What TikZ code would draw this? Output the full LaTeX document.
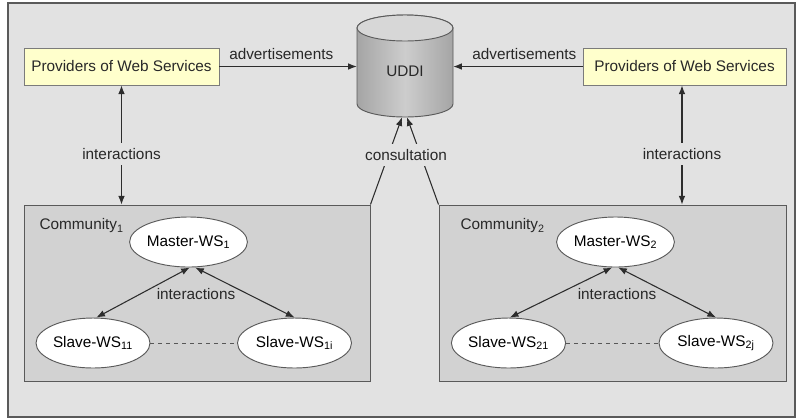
\documentclass[tikz,border=0pt]{standalone}
\usepackage{fontspec}
\setmainfont{Liberation Sans}
\usetikzlibrary{arrows.meta,shapes.geometric}
\definecolor{bgc}{RGB}{226,226,226}
\definecolor{framec}{RGB}{90,90,90}
\definecolor{commc}{RGB}{210,210,210}
\definecolor{provc}{RGB}{255,255,204}
\definecolor{linec}{RGB}{45,45,45}
\definecolor{txtc}{RGB}{40,40,40}
\definecolor{cyla}{RGB}{165,165,165}
\definecolor{cylb}{RGB}{205,205,205}
\definecolor{cylt}{RGB}{215,215,215}
\tikzset{
  arr/.style={draw=linec, line width=0.8pt, -{Latex[length=6.5pt,width=5pt]}},
  darr/.style={draw=linec, line width=0.8pt, {Latex[length=6.5pt,width=5pt]}-{Latex[length=6.5pt,width=5pt]}},
  provbox/.style={draw=framec!80, fill=provc, line width=0.7pt, inner sep=0pt, minimum height=27.75pt},
  commbox/.style={draw=framec, fill=commc, line width=0.7pt, inner sep=0pt, minimum height=132pt},
  wsnode/.style={ellipse, draw=framec, fill=white, line width=0.7pt, inner sep=0pt, minimum height=37.5pt},
  lbl/.style={text=txtc, inner sep=1pt}
}
\begin{document}
\begin{tikzpicture}[x=0.75pt,y=-0.75pt, font=\fontsize{11.5}{13}\selectfont]
\useasboundingbox (0,0) rectangle (798,419);
\fill[white] (0,0) rectangle (798,419);
\draw[fill=bgc, draw=framec, line width=0.8pt] (8,3) rectangle (795,417);

% UDDI cylinder
\draw[draw=framec, line width=0.7pt, left color=cyla, right color=cyla, middle color=cylb]
  (357,28) -- (357,104) arc[start angle=180, end angle=0, x radius=48, y radius=13]
  -- (453,28) arc[start angle=0, end angle=-180, x radius=48, y radius=13] -- cycle;
\draw[draw=framec, line width=0.7pt, fill=cylt] (405,28) ellipse[x radius=48, y radius=13];
\node[inner sep=0pt, minimum width=72pt, minimum height=76.5pt] (uddi) at (405,66) {};
\node[lbl] (uddiT) at (405,71) {UDDI};

% Providers
\node[provbox, minimum width=146.25pt, text=txtc] (p1) at (121.5,66.5) {Providers of Web Services};
\node[provbox, minimum width=152.25pt, text=txtc] (p2) at (684.5,66.5) {Providers of Web Services};

% Communities
\node[commbox, minimum width=259.5pt] (c1) at (197,293) {};
\node[commbox, minimum width=260.25pt] (c2) at (612.5,293) {};

% advertisements
\draw[arr] (p1.east) -- node[lbl, above=4pt, pos=0.45] {advertisements} (p1.east -| uddi.west);
\draw[arr] (p2.west) -- node[lbl, above=4pt, pos=0.45] {advertisements} (p2.west -| uddi.east);

% interactions (vertical)
\draw[darr] (p1.south) -- node[lbl, fill=bgc, pos=0.575, inner sep=4pt] {interactions} (p1.south |- c1.north);
\draw[darr] ([xshift=-1.9pt]p2.south) -- node[lbl, fill=bgc, pos=0.575, inner sep=4pt] {interactions} ([xshift=-1.9pt]p2.south |- c2.north);

% consultation
\draw[arr] (c1.north east) -- ([xshift=-2.25pt]uddi.south);
\draw[arr] (c2.north west) -- ([xshift=1.5pt]uddi.south);
\node[lbl, fill=bgc, inner sep=4pt] (cons) at (406,155) {consultation};

% Community 1
\node[lbl, anchor=west] (c1l) at (38,226) {Community\textsubscript{1}};
\node[wsnode, minimum width=77.25pt] (m1) at (188.5,242) {Master-WS\textsubscript{1}};
\node[wsnode, minimum width=85.5pt] (s11) at (93,343) {Slave-WS\textsubscript{11}};
\node[wsnode, minimum width=85.5pt] (s1i) at (294.5,343) {Slave-WS\textsubscript{1i}};
\draw[darr] ([xshift=1pt]m1.south) -- ([xshift=2.5pt]s11.north);
\draw[darr] ([xshift=5pt]m1.south) -- (s1i.north);
\draw[dashed, draw=linec!80, line width=0.6pt] (s11.east) -- (s1i.west);
\node[lbl] (i1) at (196,294) {interactions};

% Community 2
\node[lbl, anchor=west] (c2l) at (459,226) {Community\textsubscript{2}};
\node[wsnode, minimum width=86.25pt] (m2) at (615.5,242) {Master-WS\textsubscript{2}};
\node[wsnode, minimum width=85.5pt] (s21) at (508.5,343) {Slave-WS\textsubscript{21}};
\node[wsnode, minimum width=85.5pt] (s2j) at (716,343) {Slave-WS\textsubscript{2j}};
\draw[darr] ([xshift=-2.5pt]m2.south) -- ([xshift=1pt]s21.north);
\draw[darr] ([xshift=2pt]m2.south) -- (s2j.north);
\draw[dashed, draw=linec!80, line width=0.6pt] (s21.east) -- (s2j.west);
\node[lbl] (i2) at (617,294) {interactions};
\end{tikzpicture}
\end{document}
